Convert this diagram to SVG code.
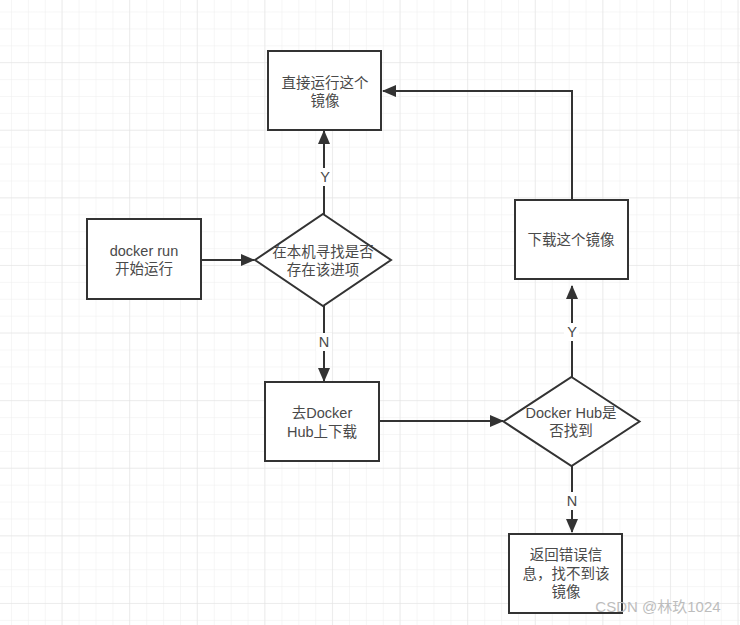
<svg xmlns="http://www.w3.org/2000/svg" width="740" height="625" viewBox="0 0 740 625">
<defs>
<pattern id="minor" x="11" y="11.5" width="16.9" height="16.9" patternUnits="userSpaceOnUse">
<path d="M0 0H16.9M0 0V16.9" fill="none" stroke="#eeeeee" stroke-width="1"/>
</pattern>
<pattern id="major" x="-6.1" y="-5.5" width="67.6" height="67.6" patternUnits="userSpaceOnUse">
<path d="M0 0H67.6M0 0V67.6" fill="none" stroke="#e2e2e2" stroke-width="1"/>
</pattern>
<marker id="arr" markerWidth="14" markerHeight="12" refX="13" refY="6" orient="auto" markerUnits="userSpaceOnUse">
<path d="M0 0L14 6L0 12Z" fill="#333"/>
</marker>
<style>
.shape{fill:#fff;stroke:#333;stroke-width:2}
.edge{fill:none;stroke:#333;stroke-width:2;marker-end:url(#arr)}
.t{font-family:"Liberation Sans","Noto Sans CJK SC",sans-serif;font-size:14.5px;fill:#4a4a4a;text-anchor:middle}
.lbl{fill:#fff}
</style>
</defs>
<rect width="740" height="625" fill="#fff"/>
<rect width="740" height="625" fill="url(#minor)"/>
<rect width="740" height="625" fill="url(#major)"/>
<g id="connectors">
<path class="edge" d="M201 260H254"/>
<path class="edge" d="M324 214V131"/>
<rect class="lbl" x="317" y="168" width="15" height="18"/>
<text class="t" x="325" y="182">Y</text>
<path class="edge" d="M324 306V381"/>
<rect class="lbl" x="316" y="333" width="16" height="18"/>
<text class="t" x="324" y="347">N</text>
<path class="edge" d="M379 421H503"/>
<path class="edge" d="M572 377V286"/>
<rect class="lbl" x="564" y="323" width="15" height="18"/>
<text class="t" x="572" y="337">Y</text>
<path class="edge" d="M572 200V91H383"/>
<path class="edge" d="M572 466V532"/>
<rect class="lbl" x="564" y="492" width="16" height="18"/>
<text class="t" x="572" y="506">N</text>
</g>
<g id="run_image">
<rect class="shape" x="268" y="51" width="113" height="79"/>
<text class="t" x="325" y="88">直接运行这个</text>
<text class="t" x="325" y="106">镜像</text>
</g>
<g id="docker_run">
<rect class="shape" x="87" y="219" width="114" height="80"/>
<text class="t" x="144" y="256">docker run</text>
<text class="t" x="144" y="274">开始运行</text>
</g>
<g id="check_local">
<path class="shape" d="M323 214L391 260L323 306L255 260Z"/>
<text class="t" x="323" y="257">在本机寻找是否</text>
<text class="t" x="323" y="275">存在该进项</text>
</g>
<g id="go_hub">
<rect class="shape" x="265" y="382" width="114" height="79"/>
<text class="t" x="322" y="418">去Docker</text>
<text class="t" x="322" y="437">Hub上下载</text>
</g>
<g id="check_hub">
<path class="shape" d="M571.5 377L639.5 421.5L571.5 466L503.5 421.5Z"/>
<text class="t" x="571" y="418">Docker Hub是</text>
<text class="t" x="571" y="436">否找到</text>
</g>
<g id="download">
<rect class="shape" x="515" y="200" width="113" height="79"/>
<text class="t" x="571" y="245">下载这个镜像</text>
</g>
<g id="error">
<rect class="shape" x="509" y="534" width="113" height="79"/>
<text class="t" x="566" y="560">返回错误信</text>
<text class="t" x="566" y="579">息，找不到该</text>
<text class="t" x="566" y="597">镜像</text>
</g>
<text x="658" y="612" font-family="Liberation Sans,'Noto Sans CJK SC',sans-serif" font-size="15" fill="#bdbdbd" text-anchor="middle">CSDN @林玖1024</text>
</svg>
